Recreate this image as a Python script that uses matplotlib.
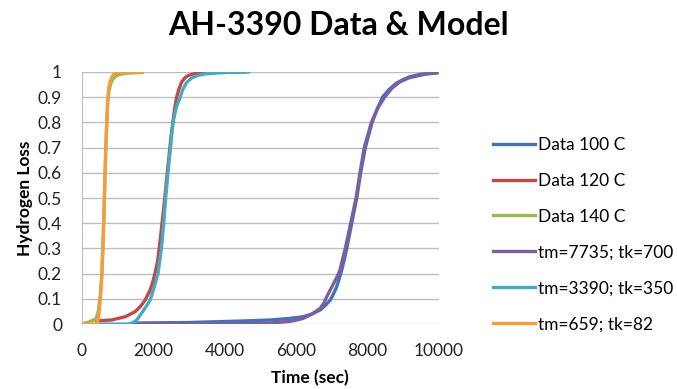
import numpy as np
import matplotlib
matplotlib.use("Agg")
import matplotlib.pyplot as plt

plt.rcParams['font.family'] = ['Lato', 'DejaVu Sans']

# values
t_100 = [1590, 3000, 4500, 5280, 5800, 6210, 6450, 6680, 6830, 6960, 7050, 7140, 7210, 7280,
         7350, 7420, 7560, 7700, 7810, 7940, 8130, 8280, 8420, 8600, 8800, 9000, 9200, 9500, 9940]
y_100 = [0.004, 0.006, 0.012, 0.016, 0.022, 0.029, 0.04, 0.056, 0.075, 0.095, 0.12, 0.148, 0.18, 0.214,
         0.255, 0.30, 0.40, 0.50, 0.60, 0.70, 0.80, 0.855, 0.90, 0.93, 0.955, 0.97, 0.982, 0.991, 0.997]

t_120 = [420, 840, 1220, 1500, 1650, 1780, 1920, 2010, 2070, 2130, 2180, 2230, 2330, 2420,
         2510, 2600, 2660, 2720, 2800, 2900, 3000, 3150, 3400, 3800, 4570]
y_120 = [0.013, 0.016, 0.029, 0.049, 0.07, 0.095, 0.135, 0.175, 0.21, 0.25, 0.31, 0.37, 0.50, 0.63,
         0.75, 0.85, 0.90, 0.93, 0.96, 0.978, 0.987, 0.993, 0.997, 0.999, 1.0]

t_140 = [0, 200, 400, 470, 530, 570, 610, 640, 680, 730, 770, 820, 880, 950, 1050, 1250, 1700]
y_140 = [0.0, 0.008, 0.02, 0.05, 0.12, 0.2, 0.35, 0.5, 0.7, 0.87, 0.925, 0.955, 0.972, 0.982, 0.99, 0.995, 0.998]

t_m7735 = [1450, 5000, 5280, 5800, 6000, 6210, 6450, 6680, 6780, 6860, 6950, 7050, 7140, 7230,
           7300, 7380, 7530, 7680, 7790, 7910, 8110, 8280, 8480, 8680, 8900, 9150, 9470, 9700, 9940]
y_m7735 = [0.0, 0.002, 0.004, 0.01, 0.015, 0.023, 0.04, 0.063, 0.083, 0.108, 0.133, 0.16, 0.185, 0.214,
           0.255, 0.30, 0.40, 0.50, 0.60, 0.70, 0.80, 0.855, 0.90, 0.935, 0.96, 0.976, 0.987, 0.993, 0.996]

t_m3390 = [530, 1300, 1400, 1540, 1680, 1800, 1920, 2000, 2060, 2140, 2235, 2300, 2355, 2420, 2490,
           2560, 2650, 2760, 2830, 2940, 3080, 3250, 3450, 3800, 4200, 4670]
y_m3390 = [0.0, 0.0, 0.003, 0.015, 0.043, 0.068, 0.095, 0.13, 0.16, 0.20, 0.30, 0.40, 0.50, 0.60, 0.70,
           0.80, 0.86, 0.90, 0.93, 0.958, 0.976, 0.986, 0.992, 0.996, 0.999, 1.0]

t_m659 = [0, 430, 480, 530, 570, 610, 640, 680, 730, 760, 800, 840, 880, 930, 990, 1200, 1700]
y_m659 = [0.0, 0.0, 0.03, 0.10, 0.20, 0.35, 0.50, 0.70, 0.89, 0.935, 0.962, 0.977, 0.986, 0.993, 0.997, 0.999, 1.0]

series = [
    ('Data 100 C', t_100, y_100, '#4372B5'),
    ('Data 120 C', t_120, y_120, '#BE4B48'),
    ('Data 140 C', t_140, y_140, '#98B954'),
    ('tm=7735; tk=700', t_m7735, y_m7735, '#7D5FA0'),
    ('tm=3390; tk=350', t_m3390, y_m3390, '#46AAC5'),
    ('tm=659; tk=82', t_m659, y_m659, '#F59D3D'),
]

fig = plt.figure(figsize=(6.77, 3.89), dpi=100)
ax = fig.add_axes([0.1204, 0.167, 0.528, 0.648])

for label, t, y, c in series:
    ax.plot(t, y, color=c, lw=2.4, label=label, solid_joinstyle='round')

ax.set_xlim(0, 10000)
ax.set_ylim(0, 1)
ax.set_xticks(np.arange(0, 10001, 2000))
ax.set_yticks(np.arange(0, 1.01, 0.1))
ax.set_yticklabels(['0', '0.1', '0.2', '0.3', '0.4', '0.5', '0.6', '0.7', '0.8', '0.9', '1'])
ax.yaxis.grid(True, color='#BEBEBE', lw=1)
ax.set_axisbelow(True)
for s in ['top', 'right', 'bottom']:
    ax.spines[s].set_visible(False)
ax.spines['left'].set_color('#BEBEBE')
ax.tick_params(length=0, labelsize=12.5, colors='#222222')
ax.tick_params(axis='y', pad=14)
ax.tick_params(axis='x', pad=14)

ax.set_xlabel('Time (sec)', fontsize=12.5, fontweight='bold', va='center')
ax.xaxis.set_label_coords(0.639, -0.214)
ax.set_ylabel('Hydrogen Loss', fontsize=12.5, fontweight='bold', va='center')
ax.yaxis.set_label_coords(-0.158, 0.5)

fig.text(0.5, 0.935, 'AH-3390 Data & Model', ha='center', va='center',
         fontsize=23, fontweight='bold')

ax.legend(loc='upper left', bbox_to_anchor=(1.133, 0.771), frameon=False,
          fontsize=12.5, handlelength=2.4, handletextpad=0.15, labelspacing=1.15,
          borderaxespad=0)

fig.savefig('out.png', dpi=100, facecolor='white')
